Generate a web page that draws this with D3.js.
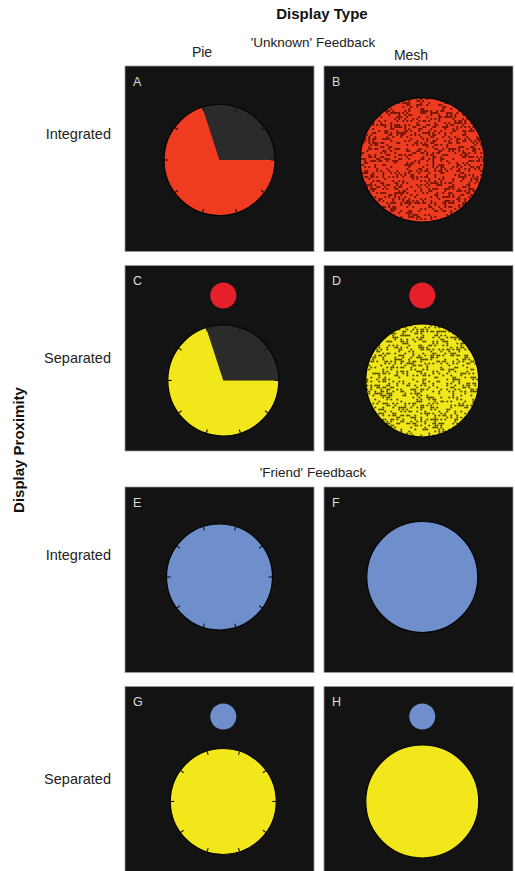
<!DOCTYPE html>
<html>
<head>
<meta charset="utf-8">
<script src="https://cdn.jsdelivr.net/npm/d3@7"></script>
<style>
  body { margin: 0; background: #fff; }
  text { font-family: "Liberation Sans", Arial, sans-serif; }
</style>
</head>
<body>
<svg id="chart" width="515" height="871"></svg>
<script>
// ---------------- DATA ----------------
const displayTypes = ["Pie", "Mesh"];
const proximities = ["Integrated", "Separated"];
const feedbackTypes = ["'Unknown' Feedback", "'Friend' Feedback"];
const feedbackKeys = ["unknown", "friend"];
const unknownShare = [0.3, 0.0];          // share of the display that is still unknown
const panelLetters = ["A", "B", "C", "D", "E", "F", "G", "H"];
const tickCount = 10;

// ---------------- STYLE / LAYOUT ----------------
const colors = {
  unknown: "#ef3b20",
  unknownIndicator: "#e5202a",
  friend: "#6e8fcc",
  separatedMain: "#f2e71a",
  gap: "#2b2b2b",
  panel: "#131313",
  meshDot: "#000"
};
const W = 515, H = 871;
const svg = d3.select("#chart");
svg.append("rect").attr("width", W).attr("height", H).attr("fill", "#fff");

const x = d3.scaleBand().domain(displayTypes).range([125, 513]).paddingInner(0.05);
const groupY = d3.scaleOrdinal().domain(feedbackKeys).range([[66, 451], [487, 872]]);
const rowY = k => d3.scaleBand().domain(proximities).range(groupY(k)).paddingInner(0.07);

// panel list built from the data arrays
const panels = [];
feedbackKeys.forEach((fk, fi) => {
  proximities.forEach((p, pi) => {
    displayTypes.forEach((d, di) => {
      panels.push({ feedback: fk, fi, prox: p, display: d, letter: panelLetters[fi * 4 + pi * 2 + di], unknown: unknownShare[fi] });
    });
  });
});

// deterministic texture hash (mesh speckle)
function hash(i, j, s) {
  let h = Math.imul(i, 374761393) ^ Math.imul(j, 668265263) ^ Math.imul(s, 982451653);
  h = Math.imul(h ^ (h >>> 13), 1274126177);
  h = h ^ (h >>> 16);
  return (h >>> 0) / 4294967296;
}

const arc = d3.arc();
const tickAngle = d3.scaleLinear().domain([0, tickCount]).range([Math.PI / tickCount, Math.PI / tickCount + 2 * Math.PI]);

panels.forEach((pn, idx) => {
  const px = x(pn.display), py = rowY(pn.feedback)(pn.prox);
  const bw = x.bandwidth(), bh = rowY(pn.feedback).bandwidth();
  const g = svg.append("g").attr("transform", `translate(${px},${py})`);
  g.append("rect").attr("width", bw).attr("height", bh).attr("fill", colors.panel)
    .attr("stroke", "#9a9a9a").attr("stroke-width", 0.8);
  g.append("text").attr("x", 8).attr("y", 20).attr("fill", "#dcdcdc")
    .attr("font-size", 12.5).text(pn.letter);

  const separated = pn.prox === "Separated";
  const isPie = pn.display === "Pie";
  const cx = separated ? bw * 0.52 : (isPie ? bw * 0.5 : bw * 0.52);
  const cy = separated ? 115 : (pn.fi === 0 ? 94 : 90);
  const r = isPie ? (pn.fi === 0 ? 55.5 : 53) : (separated ? 56.5 : (pn.fi === 0 ? 62 : 55.5));
  const mainColor = separated ? colors.separatedMain : colors[pn.feedback];

  if (separated) {
    g.append("circle").attr("cx", cx).attr("cy", 30).attr("r", 13)
      .attr("fill", pn.feedback === "unknown" ? colors.unknownIndicator : colors.friend);
  }

  const cg = g.append("g").attr("transform", `translate(${cx},${cy})`);
  if (isPie) {
    const pie = d3.pie().sort(null).value(d => d.v)
      .startAngle(Math.PI / 2 - pn.unknown * 2 * Math.PI)
      .endAngle(Math.PI / 2 - pn.unknown * 2 * Math.PI + 2 * Math.PI);
    const slices = pie([{ k: "gap", v: pn.unknown }, { k: "known", v: 1 - pn.unknown }]);
    cg.selectAll("path.slice").data(slices.filter(s => s.data.v > 0)).join("path")
      .attr("class", "slice")
      .attr("d", s => arc({ innerRadius: 0, outerRadius: r, startAngle: s.startAngle, endAngle: s.endAngle }))
      .attr("fill", s => s.data.k === "gap" ? colors.gap : mainColor);
    cg.append("circle").attr("r", r).attr("fill", "none").attr("stroke", "#050505").attr("stroke-width", 1.2);
    cg.selectAll("line.tick").data(d3.range(tickCount)).join("line")
      .attr("class", "tick")
      .attr("x1", k => Math.sin(tickAngle(k)) * (r - 4))
      .attr("y1", k => -Math.cos(tickAngle(k)) * (r - 4))
      .attr("x2", k => Math.sin(tickAngle(k)) * r)
      .attr("y2", k => -Math.cos(tickAngle(k)) * r)
      .attr("stroke", "#111").attr("stroke-width", 1.1);
  } else {
    const cid = "clip" + idx;
    cg.append("clipPath").attr("id", cid).append("circle").attr("r", r);
    cg.append("circle").attr("r", r).attr("fill", mainColor);
    if (pn.unknown > 0) {
      const cell = 2;
      const cells = [];
      const n = Math.ceil(r / cell);
      for (let i = -n; i < n; i++) for (let j = -n; j < n; j++) {
        if (hash(i + 100, j + 100, idx) < pn.unknown) cells.push([i * cell + 1, j * cell + 1]);
      }
      cg.append("g").attr("clip-path", `url(#${cid})`).selectAll("circle").data(cells).join("circle")
        .attr("cx", d => d[0]).attr("cy", d => d[1]).attr("r", 1.1)
        .attr("fill", colors.meshDot).attr("fill-opacity", 0.65);
    }
    cg.append("circle").attr("r", r).attr("fill", "none").attr("stroke", "#050505").attr("stroke-width", 1.2);
  }
});

// ---------------- TEXT ----------------
svg.append("text").attr("x", 322).attr("y", 19).attr("text-anchor", "middle")
  .attr("font-size", 15).attr("font-weight", "bold").attr("fill", "#111").text("Display Type");
svg.append("text").attr("x", 202).attr("y", 57).attr("text-anchor", "middle")
  .attr("font-size", 14).attr("fill", "#222").text(displayTypes[0]);
svg.append("text").attr("x", 411).attr("y", 60).attr("text-anchor", "middle")
  .attr("font-size", 14).attr("fill", "#222").text(displayTypes[1]);
const fbY = [47, 477];
feedbackTypes.forEach((t, i) => {
  svg.append("text").attr("x", 313).attr("y", fbY[i]).attr("text-anchor", "middle")
    .attr("font-size", 13.5).attr("fill", "#222").text(t);
});
feedbackKeys.forEach(fk => {
  const ry = rowY(fk);
  proximities.forEach(p => {
    const off = p === "Separated" ? 5 : -20;
    svg.append("text").attr("x", 111).attr("y", ry(p) + ry.bandwidth() * 0.5 + off)
      .attr("text-anchor", "end").attr("font-size", 14.5).attr("fill", "#222").text(p);
  });
});
svg.append("text").attr("transform", "translate(24,450) rotate(-90)").attr("text-anchor", "middle")
  .attr("font-size", 15).attr("font-weight", "bold").attr("fill", "#111").text("Display Proximity");
</script>
</body>
</html>
